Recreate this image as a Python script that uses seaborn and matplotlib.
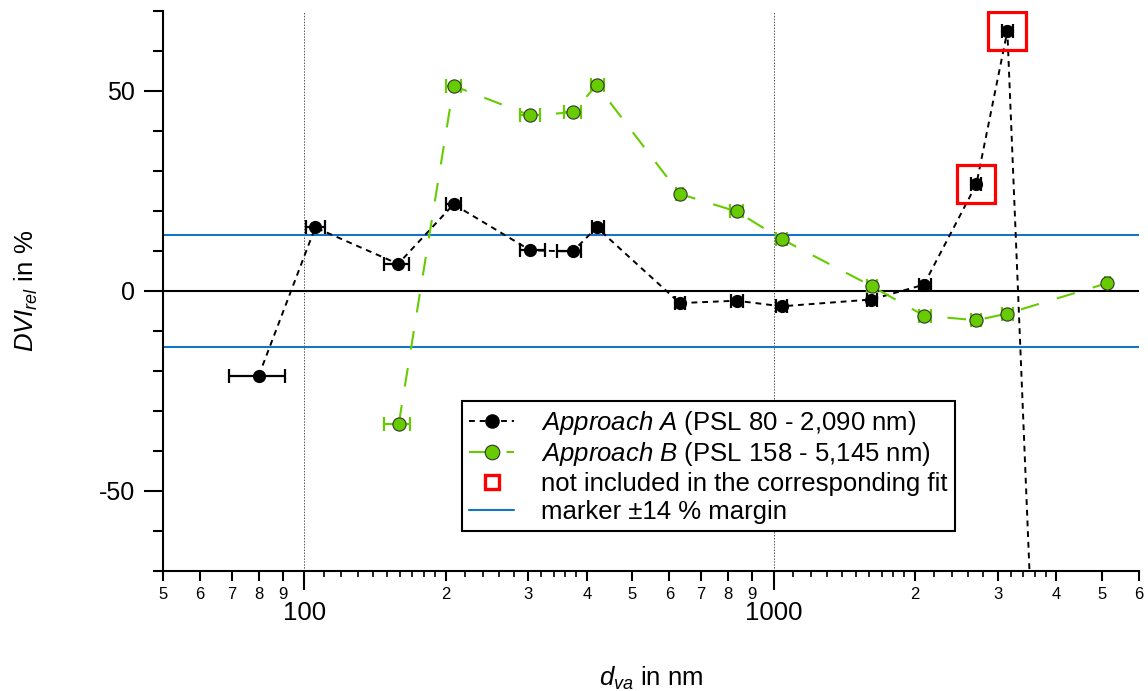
import numpy as np
import pandas as pd
import matplotlib
matplotlib.use("Agg")
import matplotlib.pyplot as plt
from matplotlib.lines import Line2D
from matplotlib.ticker import MultipleLocator, NullLocator
import seaborn as sns

# ---------------- data ----------------
size_a = [80, 105.5, 158.5, 208, 303, 373, 420, 631, 834, 1040, 1616, 2090, 2704, 3148, 3700]
dvi_a = [-21.2, 15.8, 6.7, 21.6, 10.1, 9.8, 15.8, -3.1, -2.5, -3.9, -2.2, 1.5, 26.6, 64.9, -136.0]
size_a_lo = [69, 101, 148, 200, 288, 345, 410, 617, 811, 1013, 1581, 2036, 2640, 3070, 3700]
size_a_hi = [91, 110.7, 167, 216, 326, 389, 435, 648, 860, 1068, 1660, 2160, 2770, 3230, 3700]

size_b = [159, 208, 303, 373, 420, 631, 834, 1040, 1620, 2090, 2704, 3148, 5145]
dvi_b = [-33.2, 51.2, 43.8, 44.6, 51.4, 24.2, 19.8, 12.9, 1.1, -6.2, -7.4, -5.7, 1.9]
size_b_lo = [148, 200, 288, 357, 408, 620, 809, 1013, 1581, 2036, 2640, 3070, 5085]
size_b_hi = [168, 216, 318, 389, 435, 640, 860, 1068, 1660, 2160, 2770, 3230, 5200]

excluded_size = [2704, 3148]
excluded_dvi = [26.6, 64.9]

margin = 14

xtick_major = [100, 1000]
xtick_major_labels = ["100", "1000"]
xtick_digits = [50, 60, 70, 80, 90, 200, 300, 400, 500, 600, 700, 800, 900,
                2000, 3000, 4000, 5000, 6000]
xtick_digit_labels = ["5", "6", "7", "8", "9", "2", "3", "4", "5", "6", "7", "8", "9",
                      "2", "3", "4", "5", "6"]
xtick_small = [110, 120, 130, 140, 150, 160, 170, 180, 190, 220, 240, 260, 280,
               320, 340, 360, 380, 1100, 1200, 1300, 1400, 1500, 1600, 1700, 1800,
               1900, 2200, 2400, 2600, 2800, 3200, 3400, 3600, 3800]

legend_labels = [r"$\mathit{Approach\ A}$ (PSL 80 - 2,090 nm)",
                 r"$\mathit{Approach\ B}$ (PSL 158 - 5,145 nm)",
                 "not included in the corresponding fit",
                 "marker \u00b114 % margin"]

# ---------------- style ----------------
GREEN = "#66cc00"
BLUE = "#1574c6"
RED = "#ff0000"

sns.set_theme(style="ticks")
plt.rcParams["font.family"] = ["Liberation Sans", "DejaVu Sans"]
plt.rcParams["mathtext.fontset"] = "custom"
plt.rcParams["mathtext.rm"] = "Liberation Sans"
plt.rcParams["mathtext.it"] = "Liberation Sans:italic"
plt.rcParams["mathtext.bf"] = "Liberation Sans:bold"
plt.rcParams["axes.unicode_minus"] = False

fig = plt.figure(figsize=(11.48, 6.91), dpi=100)
ax = fig.add_axes([0.142, 0.174, 0.850, 0.8106])

df_a = pd.DataFrame({"size": size_a, "dvi": dvi_a})
df_b = pd.DataFrame({"size": size_b, "dvi": dvi_b})

# reference lines
ax.axhline(0, color="black", lw=1.5, zorder=1)
ax.axhline(margin, color=BLUE, lw=1.5, zorder=1)
ax.axhline(-margin, color=BLUE, lw=1.5, zorder=1)
for xv in xtick_major:
    ax.axvline(xv, color="#555555", lw=0.7, ls=(0, (1.5, 1.5)), zorder=0.5)

# approach A
ax.errorbar(size_a, dvi_a,
            xerr=[np.array(size_a) - np.array(size_a_lo), np.array(size_a_hi) - np.array(size_a)],
            fmt="none", ecolor="black", elinewidth=1.6, capsize=4.8, capthick=1.6, zorder=3)
sns.lineplot(data=df_a, x="size", y="dvi", ax=ax, color="black", lw=1.4,
             linestyle=(0, (3, 2.5)), marker="o", markersize=9.5,
             markeredgecolor="black", markeredgewidth=0, estimator=None, sort=False,
             zorder=4)

# approach B
ax.errorbar(size_b, dvi_b,
            xerr=[np.array(size_b) - np.array(size_b_lo), np.array(size_b_hi) - np.array(size_b)],
            fmt="none", ecolor=GREEN, elinewidth=1.6, capsize=4.8, capthick=1.6, zorder=5)
sns.lineplot(data=df_b, x="size", y="dvi", ax=ax, color=GREEN, lw=1.5,
             linestyle=(0, (9, 9)), marker="o", markersize=9.5,
             markerfacecolor=GREEN, markeredgecolor="#333333", markeredgewidth=0.8,
             estimator=None, sort=False, zorder=6)

# excluded points
ax.plot(excluded_size, excluded_dvi, ls="none", marker="s", ms=27,
        mfc="none", mec=RED, mew=2.3, zorder=7)

ax.set_xscale("log")
ax.set_xlim(50, 6000)
ax.set_ylim(-70, 70)

sns.despine(ax=ax)
for s in ["left", "bottom"]:
    ax.spines[s].set_linewidth(1.5)
    ax.spines[s].set_color("black")

ax.set_yticks([-50, 0, 50])
ax.yaxis.set_minor_locator(MultipleLocator(10))
ax.tick_params(axis="y", which="major", length=14, width=1.5, labelsize=18, pad=6,
               color="black", labelcolor="black", direction="out")
ax.tick_params(axis="y", which="minor", length=7, width=1.5, color="black", direction="out")

ax.set_xticks(xtick_major, labels=xtick_major_labels)
ax.set_xticks(xtick_digits, labels=xtick_digit_labels, minor=True)
ax.tick_params(axis="x", which="major", length=14, width=1.5, labelsize=18.5, pad=8,
               color="black", labelcolor="black", direction="out")
ax.tick_params(axis="x", which="minor", length=7.5, width=1.5, labelsize=12, pad=4,
               color="black", labelcolor="black", direction="out")

sec = ax.secondary_xaxis("bottom")
sec.set_xticks(xtick_small)
sec.xaxis.set_minor_locator(NullLocator())
sec.tick_params(axis="x", which="major", length=4, width=1.2, color="black",
                labelbottom=False, direction="out")
for s in sec.spines.values():
    s.set_visible(False)

ax.set_xlabel(r"$d_{va}$ in nm", fontsize=18.5, color="black")
ax.set_ylabel(r"$DVI_{rel}$ in %", fontsize=18.5, color="black")
ax.xaxis.set_label_coords(0.5, -0.168)
ax.yaxis.set_label_coords(-0.126, 0.5)

handles = [
    Line2D([], [], color="black", lw=1.4, ls=(0, (3, 2.5)), marker="o", ms=10.5, mew=0),
    Line2D([], [], color=GREEN, lw=1.5, ls=(0, (9, 9)), marker="o", ms=10.5,
           mfc=GREEN, mec="#333333", mew=0.8),
    Line2D([], [], ls="none", marker="s", ms=9.5, mfc="none", mec=RED, mew=2.4),
    Line2D([], [], color=BLUE, lw=1.5),
]
leg = ax.legend(handles, legend_labels, loc="upper left", bbox_to_anchor=(0.306, 0.303),
                borderaxespad=0, fontsize=18.5, frameon=True, fancybox=False,
                edgecolor="black", framealpha=1, labelspacing=0.14, handlelength=1.75,
                handletextpad=1.05, borderpad=0.3)
leg.get_frame().set_linewidth(1.5)
for t in leg.get_texts():
    t.set_color("black")

fig.savefig("out.png", dpi=100)
